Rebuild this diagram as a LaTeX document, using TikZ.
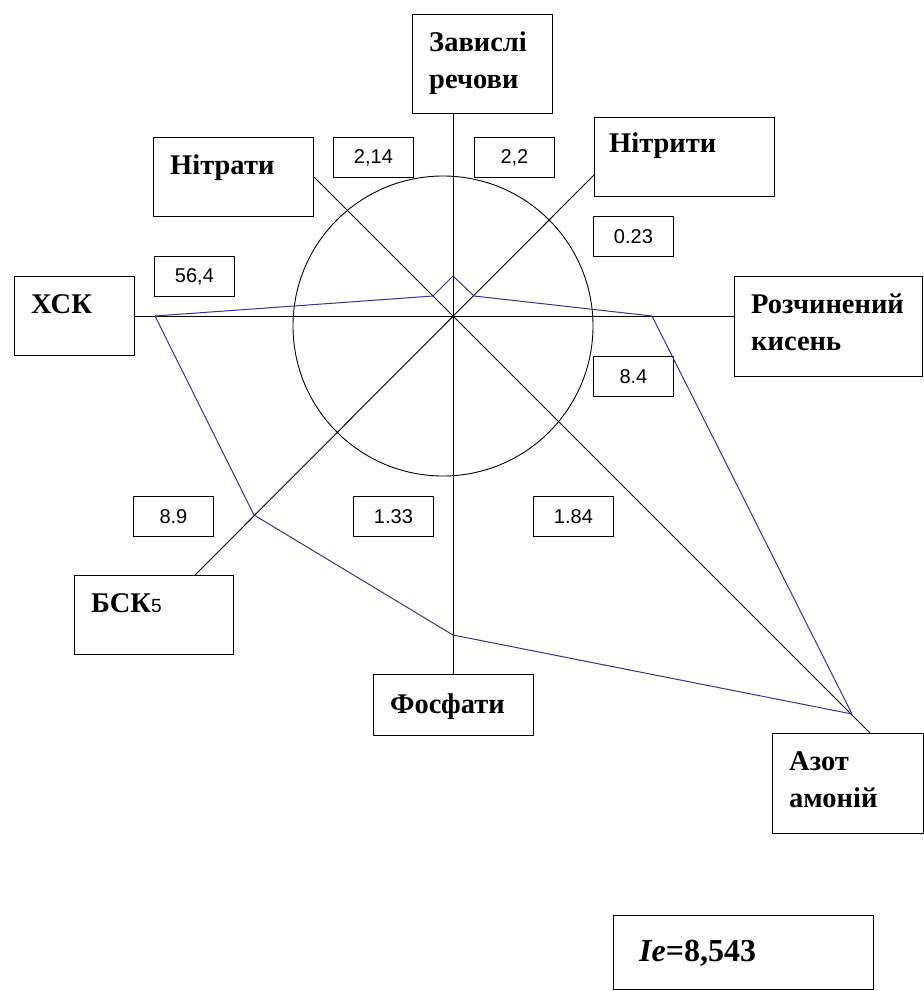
\documentclass[tikz,border=0pt]{standalone}
\usepackage{fontspec}
\setmainfont{Liberation Serif}
\newfontfamily\valfont{Liberation Sans}
\usetikzlibrary{positioning}
\definecolor{polyline}{rgb}{0.2,0.2,0.58}

\begin{document}
\begin{tikzpicture}[x=1pt,y=-1pt]
\tikzstyle{box}=[draw,rectangle,anchor=north west,inner sep=0pt,line width=0.9pt]
\tikzstyle{lbl}=[anchor=north west,inner sep=0pt,xshift=17pt,yshift=-18pt,align=left,font=\fontsize{28.5}{37}\selectfont\bfseries]
\tikzstyle{valbox}=[box,minimum width=80pt,minimum height=40pt,font=\valfont\fontsize{20}{20}\selectfont]
\tikzstyle{axis}=[line width=0.9pt]
\tikzstyle{index}=[line width=1pt,color=polyline,line join=round]
\useasboundingbox (0,0) rectangle (924,991);
\node [box,minimum width=140pt,minimum height=99pt,label={[lbl]north west:Завислі\\речови}] at (412,14) (zav) {};
\node [box,minimum width=160pt,minimum height=79pt,label={[lbl]north west:Нітрати}] at (153,137) (nitraty) {};
\node [box,minimum width=180pt,minimum height=79pt,label={[lbl,xshift=-2pt,yshift=2pt]north west:Нітрити}] at (594,117) (nitryty) {};
\node [box,minimum width=120pt,minimum height=79pt,label={[lbl]north west:ХСК}] at (14,276) (xsk) {};
\node [box,minimum width=188pt,minimum height=100pt,label={[lbl]north west:Розчинений\\кисень}] at (734,276) (roz) {};
\node [box,minimum width=159pt,minimum height=79pt,label={[lbl]north west:БСК{\valfont\mdseries\fontsize{19}{19}\selectfont 5}}] at (74,575) (bsk) {};
\node [box,minimum width=160pt,minimum height=61pt,label={[lbl,yshift=-2pt]north west:Фосфати}] at (373,674) (fos) {};
\node [box,minimum width=151pt,minimum height=100pt,label={[lbl]north west:Азот\\амоній}] at (772,733) (azot) {};
\node [box,minimum width=260pt,minimum height=74pt,label={[lbl,xshift=9pt,yshift=-7pt,font=\fontsize{32}{37}\selectfont\bfseries]north west:\textit{Ie}=8,543}] at (613,915) (ie) {};
\node [valbox] at (333,137) (v214) {2,14};
\node [valbox] at (474,137) (v22) {2,2};
\node [valbox] at (593,216) (v023) {0.23};
\node [valbox] at (154,256) (v564) {56,4};
\node [valbox] at (593,356) (v84) {8.4};
\node [valbox] at (133,496) (v89) {8.9};
\node [valbox] at (353,496) (v133) {1.33};
\node [valbox] at (533,496) (v184) {1.84};
\coordinate (o) at (453,316);
\coordinate (c) at (443,326);
\coordinate (nt) at (594,175);
\coordinate (bs) at (195,575);
\coordinate (az) at (870,733);
\draw [axis] (c) circle [radius=150pt];
\draw [axis] (o |- zav.south) -- (o |- fos.north);
\draw [axis] (xsk.east |- o) -- (roz.west |- o);
\draw [axis] (nitraty.east) -- (az);
\draw [axis] (nt) -- (bs);
\coordinate (p1) at (155,316);
\coordinate (p2) at (433,296);
\coordinate (p3) at (453,276);
\coordinate (p4) at (474,296);
\coordinate (p5) at (652,316);
\coordinate (p6) at (852,714);
\coordinate (p7) at (453,635);
\coordinate (p8) at (254,515);
\draw [index] (p1) -- (p2) -- (p3) -- (p4) -- (p5) -- (p6) -- (p7) -- (p8) -- cycle;
\end{tikzpicture}
\end{document}
